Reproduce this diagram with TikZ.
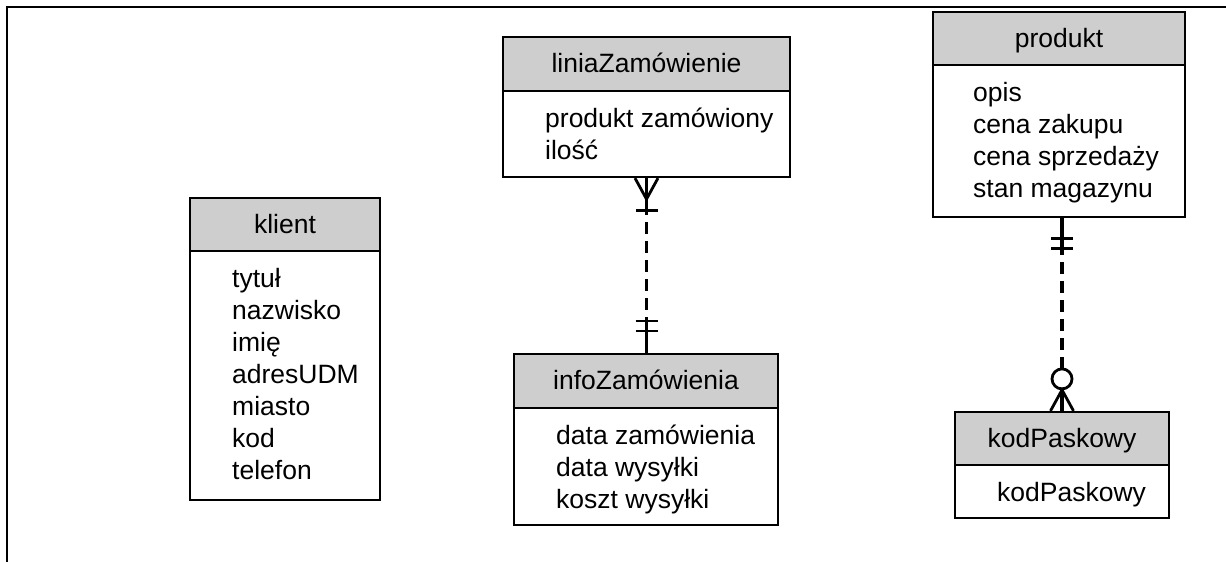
\documentclass[tikz,border=0pt]{standalone}
\usepackage{fontspec}
\setmainfont{Liberation Sans}
\usetikzlibrary{calc}
\definecolor{hdrgray}{RGB}{206,206,206}
\begin{document}
\begin{tikzpicture}[x=1pt,y=-1pt,
  every node/.style={font=\fontsize{26.5}{32}\selectfont},
  frameline/.style={line width=2.6pt},
  hdr/.style={draw, line width=2.2pt, fill=hdrgray, inner sep=0pt, text height=17pt, text depth=0pt},
  bodybox/.style={draw, line width=2.2pt, fill=white, inner sep=0pt},
  attr/.style={inner sep=0pt, anchor=base west},
  rel/.style={line width=3.4pt},
  reldash/.style={line width=3.4pt, dash pattern=on 12pt off 7pt, dash phase=-6pt},
  relmark/.style={line width=2.8pt}
]
\useasboundingbox (0,0) rectangle (1226,562);

% outer frame (top and left edges)
\draw[frameline] (1226,7) -- (7,7) -- (7,562);

% ---- klient ----
\node[hdr, minimum width=190pt, minimum height=53pt] (klientH) at (285,224.5) {klient};
\node[bodybox, minimum width=190pt, minimum height=249pt] (klientB) at (285,375.5) {};
\foreach [count=\i] \t in {tytuł,nazwisko,imię,adresUDM,miasto,kod,telefon}
  \node[attr] (klientA\i) at (232,{287+32*(\i-1)}) {\t};

% ---- liniaZamówienie ----
\node[hdr, minimum width=287pt, minimum height=54pt] (liniaH) at (646.5,64) {liniaZamówienie};
\node[bodybox, minimum width=287pt, minimum height=86pt] (liniaB) at (646.5,134) {};
\foreach [count=\i] \t in {produkt zamówiony,ilość}
  \node[attr] (liniaA\i) at (545,{127+32*(\i-1)}) {\t};

% ---- infoZamówienia ----
\node[hdr, minimum width=264pt, minimum height=54pt] (infoH) at (646,381) {infoZamówienia};
\node[bodybox, minimum width=264pt, minimum height=117pt] (infoB) at (646,466.5) {};
\foreach [count=\i] \t in {data zamówienia,data wysyłki,koszt wysyłki}
  \node[attr] (infoA\i) at (556,{444+32*(\i-1)}) {\t};

% ---- produkt ----
\node[hdr, minimum width=252pt, minimum height=53pt] (prodH) at (1059,38.5) {produkt};
\node[bodybox, minimum width=252pt, minimum height=152pt] (prodB) at (1059,141) {};
\foreach [count=\i] \t in {opis,cena zakupu,cena sprzedaży,stan magazynu}
  \node[attr] (prodA\i) at (973,{101+32*(\i-1)}) {\t};

% ---- kodPaskowy ----
\node[hdr, minimum width=214pt, minimum height=53pt] (kodH) at (1062,438.5) {kodPaskowy};
\node[bodybox, minimum width=214pt, minimum height=53pt] (kodB) at (1062,491.5) {};
\node[attr] (kodA1) at (997,501) {kodPaskowy};

% ---- liniaZamówienie (one or many) -- infoZamówienia (one and only one) ----
\coordinate (r1a) at (liniaB.south);
\coordinate (r1b) at (liniaB.south |- infoH.north);
\draw[reldash] (r1a) -- (r1b);
\draw[rel] (r1a) -- ($(r1a)+(0,36)$);
\draw[rel] (r1b) -- ($(r1b)+(0,-36)$);
\draw[relmark] ($(r1a)+(-11.5,0)$) -- ($(r1a)+(0,21)$) -- ($(r1a)+(11.5,0)$);
\draw[relmark] ($(r1a)+(-11,32)$) -- ($(r1a)+(11,32)$);
\draw[relmark] ($(r1b)+(-11,-22)$) -- ($(r1b)+(11,-22)$);
\draw[relmark] ($(r1b)+(-11,-32)$) -- ($(r1b)+(11,-32)$);

% ---- produkt (one and only one) -- kodPaskowy (zero or many) ----
\coordinate (r2b) at (kodH.north);
\coordinate (r2a) at (kodH.north |- prodB.south);
\draw[reldash] (r2a) -- ($(r2b)+(0,-42)$);
\draw[rel] (r2a) -- ($(r2a)+(0,34)$);
\draw[rel] (r2b) -- ($(r2b)+(0,-22)$);
\draw[relmark] ($(r2a)+(-11,20)$) -- ($(r2a)+(11,20)$);
\draw[relmark] ($(r2a)+(-11,30)$) -- ($(r2a)+(11,30)$);
\draw[relmark, fill=white] ($(r2b)+(0,-32)$) circle[radius=10];
\draw[relmark] ($(r2b)+(-11.5,0)$) -- ($(r2b)+(0,-21)$) -- ($(r2b)+(11.5,0)$);
\end{tikzpicture}
\end{document}
